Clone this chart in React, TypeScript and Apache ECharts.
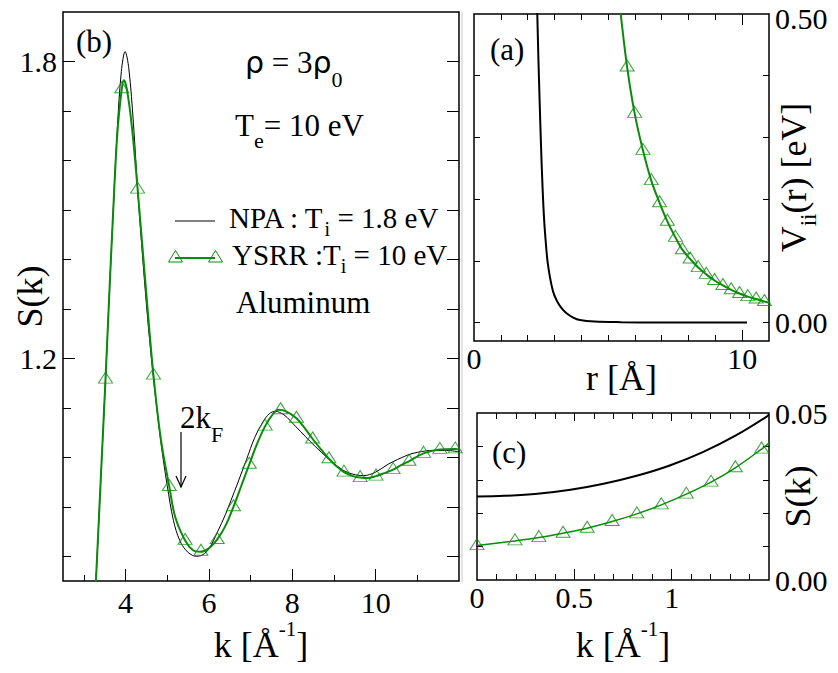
import React, { useEffect, useRef } from "react";
import * as echarts from "echarts";

// ---------- Panel (b): S(k) ----------
const bNpaK = [3.22,3.29,3.52,3.60,3.70,3.80,3.90,3.99,4.08,4.19,4.30,4.50,4.67,4.85,5.00,5.15,5.30,5.45,5.60,5.71,5.85,6.00,6.20,6.40,6.53,6.70,6.90,7.10,7.30,7.45,7.59,7.80,7.95,8.20,8.43,8.70,8.91,9.20,9.45,9.71,10.00,10.30,10.75,11.00,11.39,11.70,12.00];
const bNpaS = [0.62,0.75,1.158,1.31,1.49,1.66,1.78,1.82,1.785,1.674,1.53,1.31,1.16,1.03,0.943,0.872,0.832,0.812,0.802,0.800,0.803,0.815,0.848,0.885,0.913,0.950,0.995,1.040,1.072,1.088,1.093,1.086,1.074,1.052,1.032,1.010,0.994,0.975,0.966,0.963,0.970,0.986,1.004,1.010,1.014,1.014,1.011];
const bYsrrK = [3.22,3.29,3.52,3.60,3.70,3.80,3.91,3.96,4.03,4.15,4.29,4.51,4.67,4.85,5.05,5.19,5.43,5.62,5.79,6.00,6.20,6.40,6.59,6.78,6.97,7.16,7.35,7.53,7.67,7.85,8.10,8.29,8.49,8.69,8.88,9.06,9.24,9.45,9.63,9.80,10.01,10.21,10.42,10.61,10.80,11.15,11.54,11.91,12.00];
const bYsrrS = [0.62,0.75,1.158,1.31,1.49,1.65,1.745,1.762,1.745,1.67,1.542,1.32,1.166,1.035,0.941,0.880,0.832,0.812,0.809,0.816,0.834,0.862,0.900,0.943,0.986,1.028,1.063,1.087,1.096,1.093,1.079,1.060,1.037,1.016,0.997,0.982,0.970,0.962,0.959,0.958,0.962,0.968,0.975,0.984,0.992,1.008,1.016,1.017,1.016];
const bMarkK = [3.52,3.91,4.29,4.67,5.05,5.43,5.81,6.20,6.59,6.97,7.35,7.72,8.10,8.49,8.88,9.24,9.63,10.01,10.42,10.80,11.15,11.54,11.91];
const bMarkS = [1.158,1.745,1.542,1.166,0.941,0.832,0.810,0.834,0.900,0.986,1.063,1.096,1.079,1.037,0.997,0.970,0.959,0.962,0.975,0.992,1.008,1.016,1.017];
const bXMajor = [4, 6, 8, 10];
const bXMinor = [3, 5, 7, 9, 11];
const bYMajor = [1.2, 1.8];
const bYMinor = [0.8, 0.9, 1.0, 1.1, 1.3, 1.4, 1.5, 1.6, 1.7];
const bYAll = [0.8, 0.9, 1.0, 1.1, 1.2, 1.3, 1.4, 1.5, 1.6, 1.7, 1.8];

// ---------- Panel (a): V_ii(r) ----------
const aNpaR = [2.33,2.36,2.40,2.45,2.50,2.56,2.62,2.68,2.74,2.83,2.95,3.08,3.25,3.45,3.70,3.95,4.50,5.50,7.00,10.18];
const aNpaV = [0.55,0.50,0.43,0.355,0.285,0.215,0.163,0.128,0.100,0.074,0.050,0.036,0.024,0.015,0.008,0.004,0.0015,0.0005,0,0];
const aYsrrR = [5.40,5.47,5.71,5.99,6.30,6.61,6.92,7.21,7.51,7.77,8.06,8.36,8.66,8.97,9.28,9.59,9.90,10.21,10.52,10.83,11.00];
const aYsrrV = [0.53,0.50,0.414,0.339,0.279,0.230,0.194,0.164,0.138,0.118,0.103,0.089,0.078,0.068,0.060,0.053,0.047,0.042,0.038,0.034,0.032];
const aMarkR = [5.71,5.99,6.30,6.61,6.92,7.21,7.51,7.77,8.06,8.36,8.66,8.97,9.28,9.59,9.90,10.21,10.52,10.83];
const aMarkV = [0.414,0.339,0.279,0.230,0.194,0.164,0.138,0.118,0.103,0.089,0.078,0.068,0.060,0.053,0.047,0.042,0.038,0.034];
const aXLabels = [0, 10];
const aXMajor = [10];
const aXMinor = [1, 2, 3, 4, 5, 6, 7, 8, 9];
const aYTicks = [0, 0.1, 0.2, 0.3, 0.4];
const aYLabels = [0, 0.5];

// ---------- Panel (c): S(k) small k ----------
const cNpaK = [0, 0.14, 0.31, 0.48, 0.65, 0.82, 0.99, 1.16, 1.33, 1.49, 1.5];
const cNpaS = [0.0250, 0.0252, 0.0258, 0.0270, 0.0288, 0.0312, 0.0343, 0.0383, 0.0433, 0.0490, 0.0496];
const cYsrrK = [0, 0.195, 0.318, 0.442, 0.566, 0.694, 0.821, 0.947, 1.075, 1.202, 1.327, 1.462, 1.5];
const cYsrrS = [0.0103, 0.0117, 0.0127, 0.0140, 0.0155, 0.0175, 0.0198, 0.0225, 0.0257, 0.0293, 0.0336, 0.0392, 0.0410];
const cMarkK = [0, 0.195, 0.318, 0.442, 0.566, 0.694, 0.821, 0.947, 1.075, 1.202, 1.327, 1.462];
const cMarkS = [0.0103, 0.0117, 0.0127, 0.0140, 0.0155, 0.0175, 0.0198, 0.0225, 0.0257, 0.0293, 0.0336, 0.0392];
const cXLabels = [0, 0.5, 1];
const cXMajor = [0.5, 1];
const cXMinor = [0.1, 0.2, 0.3, 0.4, 0.6, 0.7, 0.8, 0.9, 1.1, 1.2, 1.3, 1.4];
const cYTicks = [0.01, 0.02, 0.03, 0.04];
const cYLabels = [0, 0.05];

const GREEN = "#0a8c0a";
const SERIF = "Liberation Serif, serif";
const SANS = "DejaVu Sans, sans-serif";

const pairs = (xs: number[], ys: number[]) => xs.map((x, i) => [x, ys[i]]);

function ax(grid: number, position: string, min: number, max: number, ticks: number[], len: number, extra: any = {}) {
  return {
    type: "value",
    gridIndex: grid,
    position,
    min,
    max,
    axisLine: { show: false, onZero: false },
    splitLine: { show: false },
    axisTick: { show: true, inside: true, length: len, customValues: ticks, lineStyle: { color: "#000", width: 1 } },
    axisLabel: { show: false },
    nameMoveOverlap: false,
    ...extra,
  };
}

function lab(values: number[], fmt: (v: number) => string, margin: number, rich: any = undefined) {
  const o: any = { show: true, customValues: values, formatter: fmt, margin, fontFamily: SERIF, fontSize: 30, lineHeight: 22, color: "#000" };
  if (rich) o.rich = rich;
  return o;
}

const nameBase = (rich: any = {}) => ({
  fontFamily: SERIF,
  fontSize: 36,
  color: "#000",
  rich: {
    n: { fontFamily: SERIF, fontSize: 36, color: "#000" },
    ...rich,
  },
});

const supRich = { sup: { fontFamily: SERIF, fontSize: 21, color: "#000", padding: [0, 0, 33, 0] } };
const subRichV = { sub: { fontFamily: SERIF, fontSize: 23, color: "#000", padding: [30, 0, 0, 0] } };

function txt(x: number, y: number, text: string, size: number, rich: any = {}) {
  return {
    type: "text",
    x,
    y,
    silent: true,
    style: {
      text,
      fill: "#000",
      fontFamily: SERIF,
      fontSize: size,
      align: "left",
      verticalAlign: "middle",
      rich: {
        n: { fontFamily: SERIF, fontSize: size, fill: "#000", color: "#000" },
        ...rich,
      },
    },
  };
}

function tri(cx: number, cy: number) {
  return {
    type: "polygon",
    silent: true,
    shape: { points: [[cx, cy - 7.5], [cx - 7, cy + 4], [cx + 7, cy + 4]] },
    style: { fill: "none", stroke: GREEN, lineWidth: 1 },
  };
}

export default function App() {
  const ref = useRef<HTMLDivElement>(null);
  useEffect(() => {
    if (!ref.current) return;
    const chart = echarts.init(ref.current, null, { renderer: "svg" });
    const f1 = (v: number) => v.toFixed(1);
    const f2 = (v: number) => v.toFixed(2);
    const fTopA = (v: number) => (v >= 0.5 ? "{hi|" + v.toFixed(2) + "}" : v.toFixed(2));
    const fg = (v: number) => String(v);

    const subSmall = (pad: number, size: number) => ({
      s: { fontFamily: SERIF, fontSize: size, fill: "#000", color: "#000", padding: [pad, 0, 0, 0] },
    });

    const lineS = (name: string, xi: number, yi: number, xs: number[], ys: number[], color: string, width: number, z: number) => ({
      name, type: "line", xAxisIndex: xi, yAxisIndex: yi,
      data: pairs(xs, ys), showSymbol: false, smooth: 0.35,
      lineStyle: { color, width }, z,
    });
    const markS = (name: string, xi: number, yi: number, xs: number[], ys: number[]) => ({
      name, type: "scatter", xAxisIndex: xi, yAxisIndex: yi,
      data: pairs(xs, ys), symbol: "triangle", symbolSize: [14, 11], symbolOffset: [0, -1.5],
      itemStyle: { color: "rgba(0,0,0,0)", borderColor: GREEN, borderWidth: 1 }, z: 4,
    });

    const gridBase = { show: true, borderColor: "#000", borderWidth: 1.5, containLabel: false, outerBoundsMode: "none" };

    const option: any = {
      animation: false,
      backgroundColor: "#fff",
      grid: [
        { left: 63, top: 12, width: 396, height: 569, ...gridBase },
        { left: 474, top: 14, width: 295, height: 327, ...gridBase },
        { left: 477, top: 413, width: 292, height: 167, ...gridBase },
      ],
      xAxis: [
        ax(0, "bottom", 2.5, 12, bXMajor, 12, {
          axisLabel: lab(bXMajor, fg, 10),
          name: "{n|k [Å}{sup|-1}{n|]}",
          nameLocation: "middle",
          nameGap: 37,
          nameTextStyle: nameBase(supRich),
        }),
        ax(0, "bottom", 2.5, 12, bXMinor, 6),
        ax(1, "bottom", 0, 11, aXMajor, 11, {
          axisLabel: lab(aXLabels, fg, 6),
          name: "r [Å]",
          nameLocation: "middle",
          nameGap: 19,
          nameTextStyle: nameBase(),
        }),
        ax(1, "bottom", 0, 11, aXMinor, 6),
        ax(1, "top", 0, 11, aXMajor, 11),
        ax(1, "top", 0, 11, aXMinor, 6),
        ax(2, "bottom", 0, 1.5, cXMajor, 11, {
          axisLabel: lab(cXLabels, fg, 6),
          name: "{n|k [Å}{sup|-1}{n|]}",
          nameLocation: "middle",
          nameGap: 38,
          nameTextStyle: nameBase(supRich),
        }),
        ax(2, "bottom", 0, 1.5, cXMinor, 6),
        ax(2, "top", 0, 1.5, cXMajor, 8),
        ax(2, "top", 0, 1.5, cXMinor, 6),
      ],
      yAxis: [
        ax(0, "left", 0.75, 1.9, bYMajor, 12, {
          axisLabel: lab(bYMajor, f1, 6),
          name: "S(k)",
          nameLocation: "middle",
          nameGap: 15,
          nameTextStyle: nameBase(),
        }),
        ax(0, "left", 0.75, 1.9, bYMinor, 8),
        ax(0, "right", 0.75, 1.9, bYAll, 12),
        ax(1, "right", -0.03, 0.5, aYTicks, 6, {
          axisLabel: lab(aYLabels, fTopA, 6, {
            hi: { fontFamily: SERIF, fontSize: 30, color: "#000", padding: [8, 0, 0, 0] },
          }),
          name: "{n|V}{sub|ii}{n|(r) [eV]}",
          nameLocation: "middle",
          nameGap: -2,
          nameTextStyle: nameBase(subRichV),
        }),
        ax(1, "left", -0.03, 0.5, aYTicks, 6),
        ax(2, "right", 0, 0.05, cYTicks, 6, {
          axisLabel: lab(cYLabels, f2, 6),
          name: "S(k)",
          nameLocation: "middle",
          nameGap: 11,
          nameTextStyle: nameBase(),
        }),
        ax(2, "left", 0, 0.05, cYTicks, 6),
      ],
      series: [
        lineS("NPA (b)", 0, 0, bNpaK, bNpaS, "#000", 1, 2),
        lineS("YSRR (b)", 0, 0, bYsrrK, bYsrrS, GREEN, 2, 3),
        markS("YSRR marks (b)", 0, 0, bMarkK, bMarkS),
        lineS("NPA (a)", 2, 3, aNpaR, aNpaV, "#000", 2, 2),
        lineS("YSRR (a)", 2, 3, aYsrrR, aYsrrV, GREEN, 2, 3),
        markS("YSRR marks (a)", 2, 3, aMarkR, aMarkV),
        lineS("NPA (c)", 6, 5, cNpaK, cNpaS, "#000", 2, 2),
        lineS("YSRR (c)", 6, 5, cYsrrK, cYsrrS, GREEN, 1.5, 3),
        markS("YSRR marks (c)", 6, 5, cMarkK, cMarkS),
      ],
      graphic: {
        elements: [
          { type: "line", silent: true, shape: { x1: 462, y1: 12, x2: 462, y2: 582 }, style: { stroke: "#e4e4e4", lineWidth: 2 } },
          txt(76, 41, "(b)", 31),
          txt(490, 49, "(a)", 31),
          txt(492, 452, "(c)", 31),
          txt(245, 62, "{r|ρ}{n| = 3}{r|ρ}{s|0}", 31, {
            r: { fontFamily: SANS, fontSize: 30, fill: "#000", color: "#000" },
            ...subSmall(34, 22),
          }),
          txt(235, 125, "{n|T}{s|e}{n|= 10 eV}", 31, subSmall(30, 22)),
          { type: "line", silent: true, shape: { x1: 175, y1: 221, x2: 215, y2: 221 }, style: { stroke: "#000", lineWidth: 1 } },
          txt(229, 218, "{n|NPA : T}{s|i}{n| = 1.8 eV}", 29, subSmall(22, 20)),
          { type: "line", silent: true, shape: { x1: 175, y1: 258, x2: 215, y2: 258 }, style: { stroke: GREEN, lineWidth: 2 } },
          tri(175.5, 258),
          tri(215.5, 258),
          txt(232, 254.5, "{n|YSRR :T}{s|i}{n| = 10 eV}", 29, subSmall(22, 20)),
          txt(236, 302, "Aluminum", 31),
          txt(180, 417.5, "{n|2k}{s|F}", 31, subSmall(34, 22)),
          { type: "line", silent: true, shape: { x1: 181, y1: 432, x2: 181, y2: 487 }, style: { stroke: "#000", lineWidth: 1.2 } },
          { type: "polyline", silent: true, shape: { points: [[176, 476], [181, 487], [186, 476]] }, style: { stroke: "#000", lineWidth: 1.2, fill: "none" } },
        ],
      },
    };
    chart.setOption(option);
    return () => chart.dispose();
  }, []);
  return (
    <div
      ref={ref}
      style={{ position: "fixed", left: 0, top: 0, width: 838, height: 673, background: "#fff" }}
    />
  );
}
